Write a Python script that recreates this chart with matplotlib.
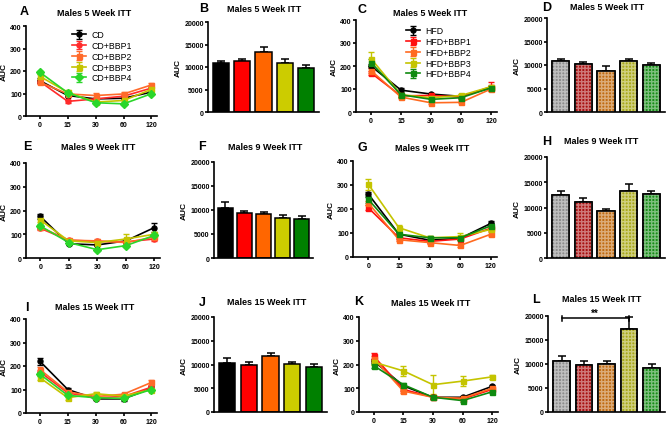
import numpy as np
import matplotlib
matplotlib.use("Agg")
import matplotlib.pyplot as plt

plt.rcParams.update({
    "font.family": ["Liberation Sans", "DejaVu Sans"],
    "font.weight": "bold", "axes.linewidth": 1.2,
    "xtick.major.width": 1.2, "ytick.major.width": 1.2,
    "xtick.major.size": 2.2, "ytick.major.size": 2.2,
    "xtick.major.pad": 1.2, "ytick.major.pad": 0.8,
    "xtick.labelsize": 5, "ytick.labelsize": 5,
})

W, H = 666, 427
TIMES = ["0", "15", "30", "60", "120"]
CD_GROUPS = ["CD", "CD+BBP1", "CD+BBP2", "CD+BBP3", "CD+BBP4"]
HFD_GROUPS = ["HFD", "HFD+BBP1", "HFD+BBP2", "HFD+BBP3", "HFD+BBP4"]

# ---- ITT curves: rows = groups, cols = time points (min) ----
A_MEAN = [[157, 91, 76, 79, 106], [153, 65, 76, 88, 124], [150, 98, 91, 98, 138],
          [176, 105, 62, 69, 118], [194, 103, 59, 54, 99]]
A_ERR = [[10, 8, 6, 6, 8], [8, 6, 6, 8, 8], [8, 8, 10, 8, 10],
         [12, 12, 6, 6, 10], [8, 8, 5, 5, 6]]
C_MEAN = [[200, 95, 78, 68, 105], [170, 70, 72, 65, 110], [180, 65, 40, 42, 100],
          [232, 75, 62, 72, 110], [215, 75, 55, 62, 105]]
C_ERR = [[10, 8, 6, 6, 8], [10, 6, 6, 6, 20], [10, 6, 5, 5, 8],
         [30, 8, 6, 6, 8], [15, 8, 6, 6, 8]]
E_MEAN = [[175, 60, 55, 72, 128], [125, 75, 70, 68, 80], [130, 75, 72, 65, 88],
          [160, 72, 65, 80, 100], [135, 65, 35, 52, 95]]
E_ERR = [[10, 6, 6, 8, 20], [8, 6, 6, 6, 8], [8, 6, 6, 6, 8],
         [10, 6, 6, 20, 10], [8, 6, 4, 6, 8]]
G_MEAN = [[262, 95, 70, 78, 140], [205, 80, 65, 75, 120], [225, 72, 60, 48, 95],
          [303, 122, 80, 85, 115], [240, 95, 80, 80, 130]]
G_ERR = [[10, 8, 6, 6, 8], [10, 6, 6, 6, 8], [10, 6, 6, 5, 8],
         [22, 12, 6, 15, 8], [15, 8, 6, 6, 10]]
I_MEAN = [[220, 100, 60, 60, 105], [175, 85, 65, 70, 110], [185, 90, 70, 80, 130],
          [150, 65, 82, 72, 100], [165, 75, 65, 62, 100]]
I_ERR = [[15, 8, 6, 8, 8], [8, 8, 6, 6, 8], [10, 8, 6, 6, 12],
         [8, 10, 8, 6, 8], [8, 6, 6, 6, 8]]
K_MEAN = [[215, 110, 62, 62, 108], [235, 95, 62, 55, 95], [225, 88, 62, 58, 100],
          [210, 173, 115, 130, 148], [195, 115, 62, 48, 85]]
K_ERR = [[10, 8, 6, 6, 6], [13, 8, 6, 6, 6], [10, 6, 6, 6, 6],
         [10, 22, 40, 22, 8], [8, 8, 6, 5, 6]]

# ---- AUC bars: one value per group ----
B_MEAN = [10800, 11300, 13400, 10900, 9800]
B_ERR = [450, 500, 1000, 900, 600]
D_MEAN = [10780, 10140, 8650, 10850, 10070]
D_ERR = [600, 500, 1050, 500, 450]
F_MEAN = [10400, 9300, 9100, 8400, 8200]
F_ERR = [1250, 500, 550, 480, 620]
H_MEAN = [12400, 11100, 9300, 13200, 12600]
H_ERR = [870, 800, 330, 1400, 660]
J_MEAN = [10400, 9800, 11850, 10100, 9500]
J_ERR = [1000, 650, 500, 420, 560]
L_MEAN = [10550, 9750, 10000, 17200, 9250]
L_ERR = [1100, 800, 550, 2500, 700]

CD_COL = ["#000000", "#ff2a2a", "#ff6a2a", "#c4c400", "#2ad62a"]
HFD_COL = ["#000000", "#ff1010", "#ff6a20", "#c4c400", "#0f8a0f"]
CD_MK = ["o", "o", "s", "s", "D"]
HFD_MK = ["o", "s", "s", "s", "s"]
BAR_COL = ["#000000", "#ff0000", "#ff6600", "#cccc00", "#008000"]
PAT_COL = ["#8c8c8c", "#a80f0f", "#c06a10", "#a8a818", "#168c16"]

fig = plt.figure(figsize=(W / 100, H / 100), dpi=100)


def axes_px(l, t, r, b):
    return fig.add_axes([l / W, 1 - b / H, (r - l) / W, (b - t) / H])


def label_px(x, y, s, size, ha="center"):
    fig.text(x / W, 1 - y / H, s, fontsize=size, fontweight="bold", ha=ha, va="center")


def prism(ax):
    ax.spines["top"].set_visible(False)
    ax.spines["right"].set_visible(False)
    ax.set_ylabel("AUC", fontsize=6, fontweight="bold", labelpad=1.5)
    for t in ax.get_xticklabels() + ax.get_yticklabels():
        t.set_fontweight("bold")


def itt(ax, mean, err, cols, mks, names, legend=None):
    x = np.arange(len(TIMES))
    for m, e, c, mk, nm in zip(mean, err, cols, mks, names):
        ax.errorbar(x, m, yerr=e, color=c, marker=mk, ms=3.6, lw=1.2,
                    capsize=2, elinewidth=1, capthick=1, label=nm)
    ax.set_ylim(0, 400); ax.set_yticks([0, 100, 200, 300, 400])
    ax.set_xlim(-0.5, 4.2); ax.set_xticks(x); ax.set_xticklabels(TIMES)
    prism(ax)
    if legend:
        ax.legend(loc="upper left", bbox_to_anchor=(legend[0] / W, 1 - legend[1] / H),
                  bbox_transform=fig.transFigure, frameon=False,
                  handlelength=1.6, labelspacing=0.2, borderpad=0, handletextpad=0.6,
                  prop={"size": 6.3, "weight": "normal"})


def auc(ax, mean, err, patterned=False):
    x = np.arange(len(mean))
    cols = PAT_COL if patterned else BAR_COL
    ax.errorbar(x, mean, yerr=[np.zeros(len(mean)), err], fmt="none", ecolor="black",
                capsize=3, elinewidth=1.1, capthick=1.1, zorder=1)
    ax.bar(x, mean, 0.75, color=cols, edgecolor="black", lw=1.1, zorder=2)
    if patterned:
        ax.bar(x, mean, 0.75, color="none", edgecolor="#ffffff70", hatch="+++++",
               lw=0, zorder=3)
        ax.bar(x, mean, 0.75, color="none", edgecolor="black", lw=1.1, zorder=4)
    ax.set_ylim(0, 20000); ax.set_yticks([0, 5000, 10000, 15000, 20000])
    ax.set_xlim(-0.6, 4.6); ax.set_xticks([])
    prism(ax)


axA = axes_px(26, 27, 157, 117); itt(axA, A_MEAN, A_ERR, CD_COL, CD_MK, CD_GROUPS, (68, 27))
axB = axes_px(208, 23, 319, 113); auc(axB, B_MEAN, B_ERR)
axC = axes_px(356, 21, 497, 113); itt(axC, C_MEAN, C_ERR, HFD_COL, HFD_MK, HFD_GROUPS, (402, 23))
axD = axes_px(547, 19, 665, 113); auc(axD, D_MEAN, D_ERR, True)
axE = axes_px(26, 164, 160, 259); itt(axE, E_MEAN, E_ERR, CD_COL, CD_MK, CD_GROUPS)
axF = axes_px(214, 163, 313, 259); auc(axF, F_MEAN, F_ERR)
axG = axes_px(353, 162, 497, 258); itt(axG, G_MEAN, G_ERR, HFD_COL, HFD_MK, HFD_GROUPS)
axH = axes_px(547, 158, 665, 259); auc(axH, H_MEAN, H_ERR, True)
axI = axes_px(26, 320, 157, 414); itt(axI, I_MEAN, I_ERR, CD_COL, CD_MK, CD_GROUPS)
axJ = axes_px(214, 318, 327, 413); auc(axJ, J_MEAN, J_ERR)
axK = axes_px(359, 318, 498, 413); itt(axK, K_MEAN, K_ERR, HFD_COL, HFD_MK, HFD_GROUPS)
axL = axes_px(548, 317, 665, 413); auc(axL, L_MEAN, L_ERR, True)

# significance bracket in L
axL.plot([0, 3], [19500, 19500], color="black", lw=1.1, clip_on=False)
for xb in (0, 3):
    axL.plot([xb, xb], [18900, 20100], color="black", lw=1.1, clip_on=False)
axL.text(1.5, 19700, "**", ha="center", va="bottom", fontsize=7, fontweight="bold")

TITLES = [(24, 12, "A", 94, 14, "Males 5 Week ITT"), (204, 9, "B", 264, 9, "Males 5 Week ITT"),
          (362, 10, "C", 430, 14, "Males 5 Week ITT"), (547, 8, "D", 607, 7, "Males 5 Week ITT"),
          (27, 147, "E", 98, 148, "Males 9 Week ITT"), (202, 147, "F", 265, 148, "Males 9 Week ITT"),
          (362, 148, "G", 432, 149, "Males 9 Week ITT"), (547, 142, "H", 601, 142, "Males 9 Week ITT"),
          (27, 308, "I", 95, 307, "Males 15 Week ITT"), (202, 303, "J", 267, 303, "Males 15 Week ITT"),
          (359, 302, "K", 431, 304, "Males 15 Week ITT"), (536, 300, "L", 602, 300, "Males 15 Week ITT")]
for lx, ly, letter, tx, ty, title in TITLES:
    label_px(lx, ly, letter, 9)
    label_px(tx, ty, title, 6.5)

fig.savefig("out.png", dpi=100)
